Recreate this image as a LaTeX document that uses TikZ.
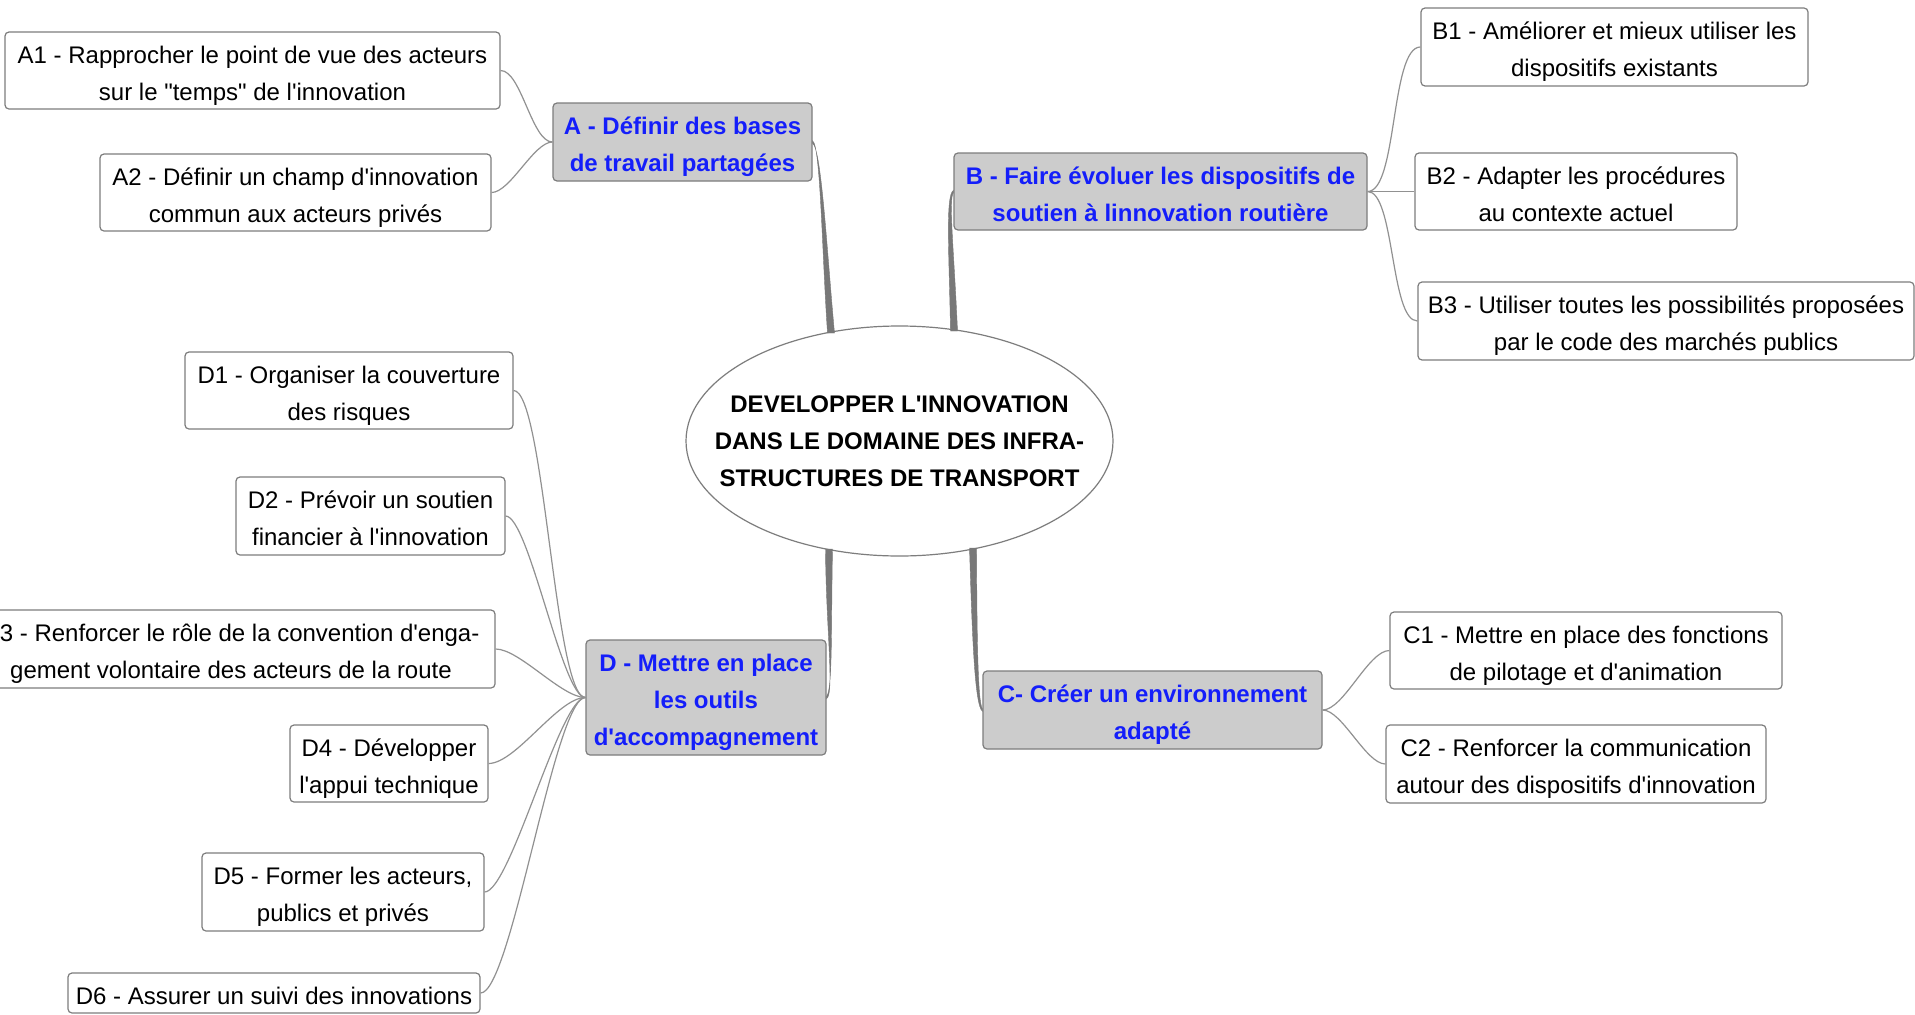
\documentclass[tikz,border=0pt]{standalone}
\usepackage{fontspec}
\setmainfont{Liberation Sans}[Ligatures=TeXOff]
\usetikzlibrary{calc,shapes.geometric}
\definecolor{mainblue}{RGB}{20,30,250}
\definecolor{boxgray}{RGB}{204,204,204}
\definecolor{linegray}{RGB}{145,145,145}
\definecolor{bordergray}{RGB}{125,125,125}
\definecolor{branchgray}{RGB}{120,120,120}
\begin{document}
\begin{tikzpicture}[x=1pt,y=-1pt,
  every node/.style={font=\fontsize{24}{37}\selectfont, align=center, inner sep=0pt},
  twolines/.style={text height=65pt, text depth=6pt},
  threelines/.style={text height=102pt, text depth=6pt},
  oneline/.style={text height=28pt, text depth=6pt},
  sub/.style={rectangle, draw=bordergray, line width=1.2pt, rounded corners=4pt, fill=white, twolines},
  topic/.style={sub, fill=boxgray, text=mainblue, font=\fontsize{24}{37}\selectfont\bfseries},
  link/.style={draw=linegray, line width=1.2pt},
  branch/.style={fill=branchgray, draw=branchgray, line width=0.4pt},
]
\useasboundingbox (0,0) rectangle (1915,1015);
\fill[white] (0,0) rectangle (1915,1015);

% centre
\node[ellipse, draw=bordergray, line width=1.2pt, fill=white, inner xsep=-45pt, inner ysep=0pt,
  minimum width=427pt, minimum height=230pt,
  font=\fontsize{24}{37}\selectfont\bfseries] (ell) at (899.5,441)
  {DEVELOPPER L'INNOVATION\\DANS LE DOMAINE DES INFRA-\\STRUCTURES DE TRANSPORT};

% main topics
\node[topic, minimum width=259pt, minimum height=78pt] (A) at (682.5,142) {A - Définir des bases\\de travail partagées};
\node[topic, minimum width=413pt, minimum height=77pt] (B) at (1160.5,191.5) {B - Faire évoluer les dispositifs de\\soutien à linnovation routière};
\node[topic, minimum width=339pt, minimum height=78pt] (C) at (1152.5,710) {C- Créer un environnement\\adapté};
\node[topic, threelines, minimum width=240pt, minimum height=115pt] (D) at (706,697.5) {D - Mettre en place\\les outils\\d'accompagnement};

% sub topics A
\node[sub, minimum width=495pt, minimum height=77pt] (A1) at (252.5,70.5) {A1 - Rapprocher le point de vue des acteurs\\sur le "temps" de l'innovation};
\node[sub, minimum width=391pt, minimum height=77pt] (A2) at (295.5,192.5) {A2 - Définir un champ d'innovation\\commun aux acteurs privés};

% sub topics B
\node[sub, minimum width=387pt, minimum height=78pt] (B1) at (1614.5,47) {B1 - Améliorer et mieux utiliser les\\dispositifs existants};
\node[sub, minimum width=322pt, minimum height=77pt] (B2) at (1576,191.5) {B2 - Adapter les procédures\\au contexte actuel};
\node[sub, minimum width=496pt, minimum height=78pt] (B3) at (1666,321) {B3 - Utiliser toutes les possibilités proposées\\par le code des marchés publics};

% sub topics C
\node[sub, minimum width=392pt, minimum height=77pt] (C1) at (1586,650.5) {C1 - Mettre en place des fonctions\\de pilotage et d'animation};
\node[sub, minimum width=380pt, minimum height=78pt] (C2) at (1576,764) {C2 - Renforcer la communication\\autour des dispositifs d'innovation};

% sub topics D
\node[sub, minimum width=328pt, minimum height=77pt] (D1) at (349,390.5) {D1 - Organiser la couverture\\des risques};
\node[sub, minimum width=269pt, minimum height=78pt] (D2) at (370.5,516) {D2 - Prévoir un soutien\\financier à l'innovation};
\node[sub, minimum width=528pt, minimum height=78pt] (D3) at (231,649) {D3 - Renforcer le rôle de la convention d'enga-\\gement volontaire des acteurs de la route};
\node[sub, minimum width=198pt, minimum height=77pt] (D4) at (389,763.5) {D4 - Développer\\l'appui technique};
\node[sub, minimum width=282pt, minimum height=78pt] (D5) at (343,892) {D5 - Former les acteurs,\\publics et privés};
\node[sub, oneline, minimum width=412pt, minimum height=40pt] (D6) at (274,993) {D6 - Assurer un suivi des innovations};

% thin links
\draw[link] (A1.east) to[out=0,in=180,looseness=0.6] (A.west);
\draw[link] (A2.east) to[out=0,in=180,looseness=0.6] (A.west);
\draw[link] (B.east) to[out=0,in=180,looseness=0.5] (B1.west);
\draw[link] (B.east) to[out=0,in=180,looseness=0.5] (B2.west);
\draw[link] (B.east) to[out=0,in=180,looseness=0.5] (B3.west);
\draw[link] (C.east) to[out=0,in=180,looseness=0.6] (C1.west);
\draw[link] (C.east) to[out=0,in=180,looseness=0.6] (C2.west);
\draw[link] (D1.east) to[out=0,in=180,looseness=0.25] (D.west);
\draw[link] (D2.east) to[out=0,in=180,looseness=0.3] (D.west);
\draw[link] (D3.east) to[out=0,in=180,looseness=0.6] (D.west);
\draw[link] (D4.east) to[out=0,in=180,looseness=0.6] (D.west);
\draw[link] (D5.east) to[out=0,in=180,looseness=0.3] (D.west);
\draw[link] (D6.east) to[out=0,in=180,looseness=0.25] (D.west);

% tapered main branches
\coordinate (eA) at (831,333);
\coordinate (eB) at (954,331);
\coordinate (eD) at (829,549);
\coordinate (eC) at (973,548);
\fill[branch] ($(A.east)+(0,-1.2)$) .. controls ($(A.east)+(8,4)$) and ($(eA)+(-9,-80)$) .. ($(eA)+(-3.5,0)$)
  -- ($(eA)+(3.5,0)$) .. controls ($(eA)+(-4,-80)$) and ($(A.east)+(9,8)$) .. ($(A.east)+(0,1.2)$) -- cycle;
\fill[branch] ($(B.west)+(0,-1.2)$) .. controls ($(B.west)+(-8,4)$) and ($(eB)+(-5,-80)$) .. ($(eB)+(-3.5,0)$)
  -- ($(eB)+(3.5,0)$) .. controls ($(eB)+(0,-80)$) and ($(B.west)+(-5,8)$) .. ($(B.west)+(0,1.2)$) -- cycle;
\fill[branch] ($(D.east)+(0,1.2)$) .. controls ($(D.east)+(8,-4)$) and ($(eD)+(-3,80)$) .. ($(eD)+(-3.5,0)$)
  -- ($(eD)+(3.5,0)$) .. controls ($(eD)+(2,80)$) and ($(D.east)+(6,-8)$) .. ($(D.east)+(0,-1.2)$) -- cycle;
\fill[branch] ($(C.west)+(0,1.2)$) .. controls ($(C.west)+(-8,-4)$) and ($(eC)+(-1,80)$) .. ($(eC)+(-3.5,0)$)
  -- ($(eC)+(3.5,0)$) .. controls ($(eC)+(4,80)$) and ($(C.west)+(-5,-8)$) .. ($(C.west)+(0,-1.2)$) -- cycle;
\end{tikzpicture}
\end{document}
